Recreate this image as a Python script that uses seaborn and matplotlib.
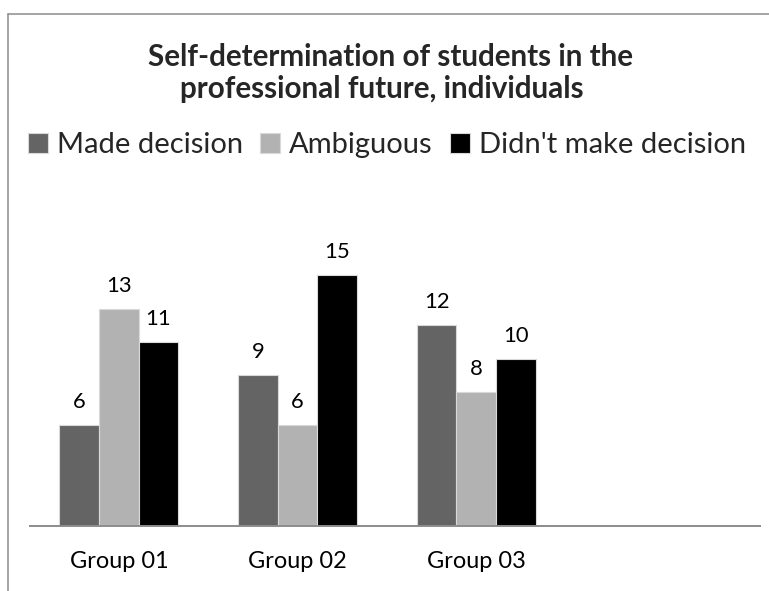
import matplotlib
matplotlib.use("Agg")
import matplotlib.pyplot as plt
from matplotlib.lines import Line2D
import seaborn as sns
import pandas as pd

# ---- data ----
groups = ["Group 01", "Group 02", "Group 03"]
series = ["Made decision", "Ambiguous", "Didn't make decision"]
made_decision = [6, 9, 12]
ambiguous = [13, 6, 8]
didnt_make_decision = [11, 15, 10]
title_lines = ["Self-determination of students in the",
               "professional future, individuals"]
colors = ["#646464", "#b2b2b2", "#000000"]

df = pd.DataFrame({
    "group": groups * 3,
    "series": [series[0]] * 3 + [series[1]] * 3 + [series[2]] * 3,
    "value": made_decision + ambiguous + didnt_make_decision,
})

sns.set_theme(style="white")
FAM = ["Lato", "DejaVu Sans"]
plt.rcParams["font.family"] = FAM

W, H = 769, 591
fig = plt.figure(figsize=(W / 100, H / 100), dpi=100)
renderer = fig.canvas.get_renderer()


def fit(s, target_px, weight="normal"):
    t = fig.text(0, 0, s, fontsize=10, fontweight=weight)
    w = t.get_window_extent(renderer).width
    t.remove()
    return 10 * target_px / w


title_fs = fit(title_lines[0], 488, "bold")
legend_fs = fit("".join(series), 186 + 144 + 268)
tick_fs = fit("Group 01", 99)
label_fs = fit("13", 25.5)

# axes: baseline at y=525.5 px, x from 29.5 to 760 px
x0, x1 = 29.5, 760
slot = 178.7
ybase = 525.5
ymax = 18
px_per_unit = 16.67
ax_h = ymax * px_per_unit
ax = fig.add_axes([x0 / W, (H - ybase) / H, (x1 - x0) / W, ax_h / H])

sns.barplot(data=df, x="group", y="value", hue="series", order=groups,
            hue_order=series, palette=colors, width=0.666, gap=0,
            edgecolor="#d9d9d9", linewidth=0.8, ax=ax, legend=True,
            errorbar=None)
ax.set_xlim(-0.5, (x1 - x0) / slot - 0.5)
ax.set_ylim(0, ymax)
ax.set_xlabel("")
ax.set_ylabel("")
ax.set_yticks([])
for s in ["top", "left", "right"]:
    ax.spines[s].set_visible(False)
ax.spines["bottom"].set_color("#8c8c8c")
ax.spines["bottom"].set_linewidth(1.4)
ax.tick_params(axis="x", length=0, pad=18, labelsize=tick_fs, colors="black")

for cont in ax.containers:
    ax.bar_label(cont, fontsize=label_fs, padding=9.5, color="black")

handles, labels = ax.get_legend_handles_labels()
ax.get_legend().remove()
sq = 20 / (legend_fs * 100 / 72)
fig.legend(handles, labels, loc="center left",
           bbox_to_anchor=(28 / W, 1 - 145 / H), ncol=3, frameon=False,
           fontsize=legend_fs, handlelength=sq, handleheight=sq,
           handletextpad=0.3, columnspacing=0.6, borderpad=0,
           borderaxespad=0)

fig.text(391 / W, 1 - 65.7 / H, title_lines[0], ha="center", va="baseline",
         fontsize=title_fs, fontweight="bold")
fig.text(382 / W, 1 - 97.7 / H, title_lines[1], ha="center", va="baseline",
         fontsize=title_fs, fontweight="bold")

# chart border (partially visible)
fig.add_artist(Line2D([7.5 / W, 7.5 / W], [0, 1 - 13.5 / H],
                      transform=fig.transFigure, color="#8c8c8c", lw=1.1))
fig.add_artist(Line2D([7.5 / W, 1], [1 - 13.5 / H, 1 - 13.5 / H],
                      transform=fig.transFigure, color="#8c8c8c", lw=1.1))

fig.savefig("out.png", dpi=100)
